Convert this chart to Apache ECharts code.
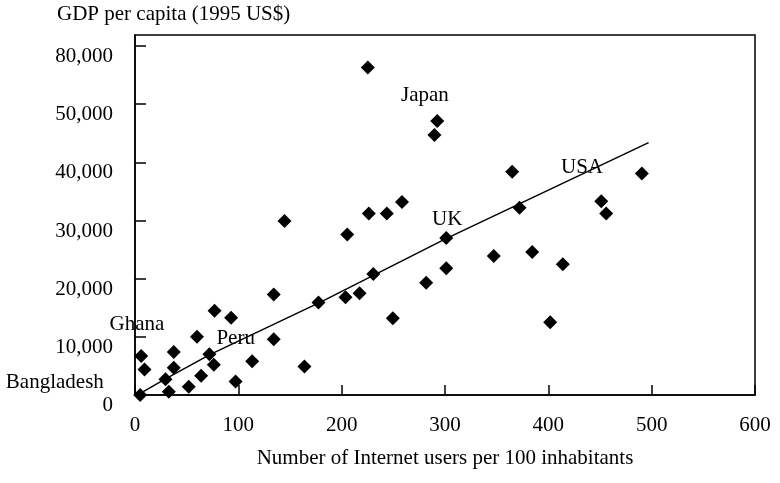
<!DOCTYPE html>
<html>
<head>
<meta charset="utf-8">
<script src="https://cdn.jsdelivr.net/npm/echarts@6/dist/echarts.min.js"></script>
<style>
  html, body { margin: 0; background: #fff; }
  #main { width: 780px; height: 483px; }
</style>
</head>
<body>
<div id="main"></div>
<script>
  // internet users per 100 inhabitants / GDP per capita (1995 US$)
  const usersX = [5, 6, 9.2, 29.5, 32.7, 37.5, 37.5, 52, 60, 64, 72, 76.3, 77, 93, 97.3, 113.4,
    134.3, 134.3, 144.7, 164, 177.6, 203.7, 205.4, 217.3, 225.3, 226.3, 230.6, 243.7, 249.5, 258.4,
    281.8, 289.8, 292.5, 301.2, 301.2, 347.2, 365, 372.1, 384.4, 401.8, 414, 451.2, 456, 490.5];
  const gdpY = [0, 6700, 4400, 2700, 570, 7400, 4700, 1400, 10000, 3300, 7000, 5200, 14500, 13300, 2300, 5800,
    17300, 9600, 29900, 4900, 15900, 16800, 27600, 17500, 56300, 31200, 20800, 31200, 13200, 33200,
    19300, 44700, 47100, 27000, 21800, 23900, 38400, 32200, 24600, 12500, 22500, 33300, 31200, 38100];

  // fitted trend line
  const trendX = [8, 30, 72, 180, 300, 497];
  const trendY = [570, 2800, 6900, 16000, 26800, 43400];

  // country annotations (centre of each label, in data units)
  const labelNames = ['Japan', 'USA', 'UK', 'Peru', 'Ghana', 'Bangladesh'];
  const labelX = [280.6, 432.6, 302.2, 97.4, 1.9, -77.6];
  const labelY = [51500, 39100, 30100, 9700, 12200, 2200];

  const xTickLabels = ['0', '100', '200', '300', '400', '500', '600'];
  const yTickLabels = ['0', '10,000', '20,000', '30,000', '40,000', '50,000', '80,000'];

  const font = 'Liberation Serif';
  const myChart = echarts.init(document.getElementById('main'));

  const option = {
    animation: false,
    backgroundColor: '#fff',
    textStyle: { fontFamily: font, color: '#000' },
    title: {
      text: 'GDP per capita (1995 US$)',
      left: 57,
      top: 4,
      padding: 0,
      textStyle: { fontFamily: font, fontSize: 21, fontWeight: 'normal', color: '#000' }
    },
    grid: {
      left: 135, right: 25, top: 35, bottom: 88,
      show: true, borderColor: '#000', borderWidth: 1.5
    },
    xAxis: {
      type: 'value',
      min: 0, max: 600, interval: 100,
      name: 'Number of Internet users per 100 inhabitants',
      nameLocation: 'middle',
      nameGap: 53,
      nameTextStyle: { fontFamily: font, fontSize: 21, color: '#000' },
      splitLine: { show: false },
      axisLine: { lineStyle: { color: '#000', width: 1.5 } },
      axisTick: { inside: true, length: 10, lineStyle: { color: '#000', width: 1.5 } },
      axisLabel: {
        margin: 20, fontFamily: font, fontSize: 21, color: '#000',
        formatter: v => xTickLabels[v / 100] || ''
      }
    },
    yAxis: {
      type: 'value',
      min: 0, max: 61900, interval: 10000,
      splitLine: { show: false },
      axisLine: { lineStyle: { color: '#000', width: 1.5 } },
      axisTick: { inside: true, length: 11, lineStyle: { color: '#000', width: 1.5 } },
      axisLabel: {
        margin: 22, fontFamily: font, fontSize: 21, color: '#000',
        verticalAlign: 'top',
        showMaxLabel: false,
        formatter: v => (v % 10000 === 0 ? yTickLabels[v / 10000] : '')
      }
    },
    series: [
      {
        name: 'countries',
        type: 'scatter',
        symbol: 'diamond',
        symbolSize: 14,
        itemStyle: { color: '#000', opacity: 1 },
        data: usersX.map((x, i) => [x, gdpY[i]])
      },
      {
        name: 'trend',
        type: 'line',
        symbol: 'none',
        lineStyle: { color: '#000', width: 1.5 },
        data: trendX.map((x, i) => [x, trendY[i]])
      }
    ]
  };
  myChart.setOption(option);

  // country names placed through the chart's own scales
  myChart.setOption({
    graphic: labelNames.map((n, i) => {
      const p = myChart.convertToPixel({ gridIndex: 0 }, [labelX[i], labelY[i]]);
      return {
        type: 'text',
        x: p[0],
        y: p[1],
        z: 10,
        style: {
          text: n,
          fill: '#000',
          font: '21px "Liberation Serif"',
          align: 'center',
          verticalAlign: 'middle'
        }
      };
    })
  });
</script>
</body>
</html>
